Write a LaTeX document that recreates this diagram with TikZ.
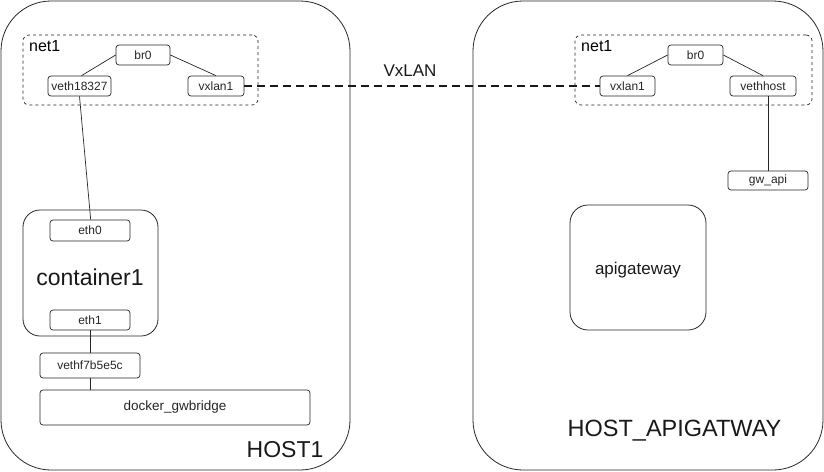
\documentclass[tikz,border=0pt]{standalone}
\usepackage{fontspec}
\setmainfont{Liberation Sans}
\begin{document}
\begin{tikzpicture}[x=1pt,y=-1pt,
  host/.style={draw=black!85,line width=0.8pt,rounded corners=50pt,inner sep=0pt},
  netbox/.style={draw=black!85,dashed,line width=0.7pt,rounded corners=6pt,inner sep=0pt},
  iface/.style={draw=black!85,line width=0.7pt,rounded corners=3pt,inner sep=0pt,font=\fontsize{12}{14}\selectfont,text=black!85},
  cont/.style={draw=black!85,line width=0.8pt,rounded corners=17pt,inner sep=0pt},
  wire/.style={draw=black!85,line width=0.7pt},
  vx/.style={draw=black!90,line width=1.8pt,dash pattern=on 8pt off 5pt}]
\useasboundingbox (0,0) rectangle (824,471);
% hosts
\node[host,minimum width=349pt,minimum height=469pt] (host1) at (175.5,235.5) {};
\node[host,minimum width=350pt,minimum height=469pt] (host2) at (648,235.5) {};
\node[font=\fontsize{23}{26}\selectfont,text=black!90] (h1lab) at (285,450) {HOST1};
\node[font=\fontsize{23.5}{26}\selectfont,text=black!90] (h2lab) at (674.5,431) {HOST\_APIGATWAY};
% left net1
\node[netbox,minimum width=235pt,minimum height=70pt] (net1l) at (140.5,70) {};
\node[font=\fontsize{16}{18}\selectfont,anchor=west,inner sep=0pt] (net1llab) at (29,46) {net1};
\node[iface,minimum width=54pt,minimum height=20pt] (br0l) at (143,55) {br0};
\node[iface,minimum width=63pt,minimum height=20pt] (veth) at (79.5,86) {veth18327};
\node[iface,minimum width=56pt,minimum height=20pt] (vxl) at (216,86) {vxlan1};
\draw[wire] (br0l.west) -- ([xshift=2pt]veth.north);
\draw[wire] (br0l.east) -- (vxl.north);
% right net1
\node[netbox,minimum width=237pt,minimum height=70pt] (net1r) at (693.5,70) {};
\node[font=\fontsize{16}{18}\selectfont,anchor=west,inner sep=0pt] (net1rlab) at (581,46) {net1};
\node[iface,minimum width=55pt,minimum height=20pt] (br0r) at (695.5,55) {br0};
\node[iface,minimum width=55pt,minimum height=20pt] (vxr) at (627.5,86) {vxlan1};
\node[iface,minimum width=66pt,minimum height=20pt] (vh) at (763,86) {vethhost};
\node[iface,minimum width=80pt,minimum height=19pt] (gw) at (768,180.5) {gw\_api};
\draw[wire] (br0r.west) -- (vxr.north);
\draw[wire] (br0r.east) -- (vh.north);
\draw[wire] (gw.north) -- (gw.north |- vh.south);
% VxLAN
\draw[vx] (vxl.east) -- (vxr.west);
\node[font=\fontsize{17}{20}\selectfont,text=black!90] (vxlab) at (410,71) {VxLAN};
% container1
\node[cont,minimum width=135pt,minimum height=126pt] (c1) at (90.5,273) {};
\node[font=\fontsize{23}{26}\selectfont,text=black!90] (c1lab) at (90,277) {container1};
\node[iface,minimum width=80pt,minimum height=21pt] (eth0) at (90,230.5) {eth0};
\node[iface,minimum width=80pt,minimum height=20pt] (eth1) at (90,320) {eth1};
\node[iface,minimum width=100pt,minimum height=25pt] (vf) at (90,365.5) {vethf7b5e5c};
\node[iface,minimum width=270pt,minimum height=35pt,font=\fontsize{13.5}{16}\selectfont] (dg) at (175,407.5) {docker\_gwbridge};
\draw[wire] (veth.south) -- ([xshift=0.7pt]eth0.north);
\draw[wire] ([xshift=0.7pt]eth1.south) -- ([xshift=0.7pt]vf.north);
\draw[wire] ([xshift=0.7pt]vf.south) -- ([xshift=0.7pt]vf.south |- dg.north);
% apigateway
\node[cont,minimum width=136pt,minimum height=125pt,rounded corners=18pt] (api) at (638,267.5) {};
\node[font=\fontsize{17}{20}\selectfont,text=black!90] (apilab) at (638,270) {apigateway};
\end{tikzpicture}
\end{document}
